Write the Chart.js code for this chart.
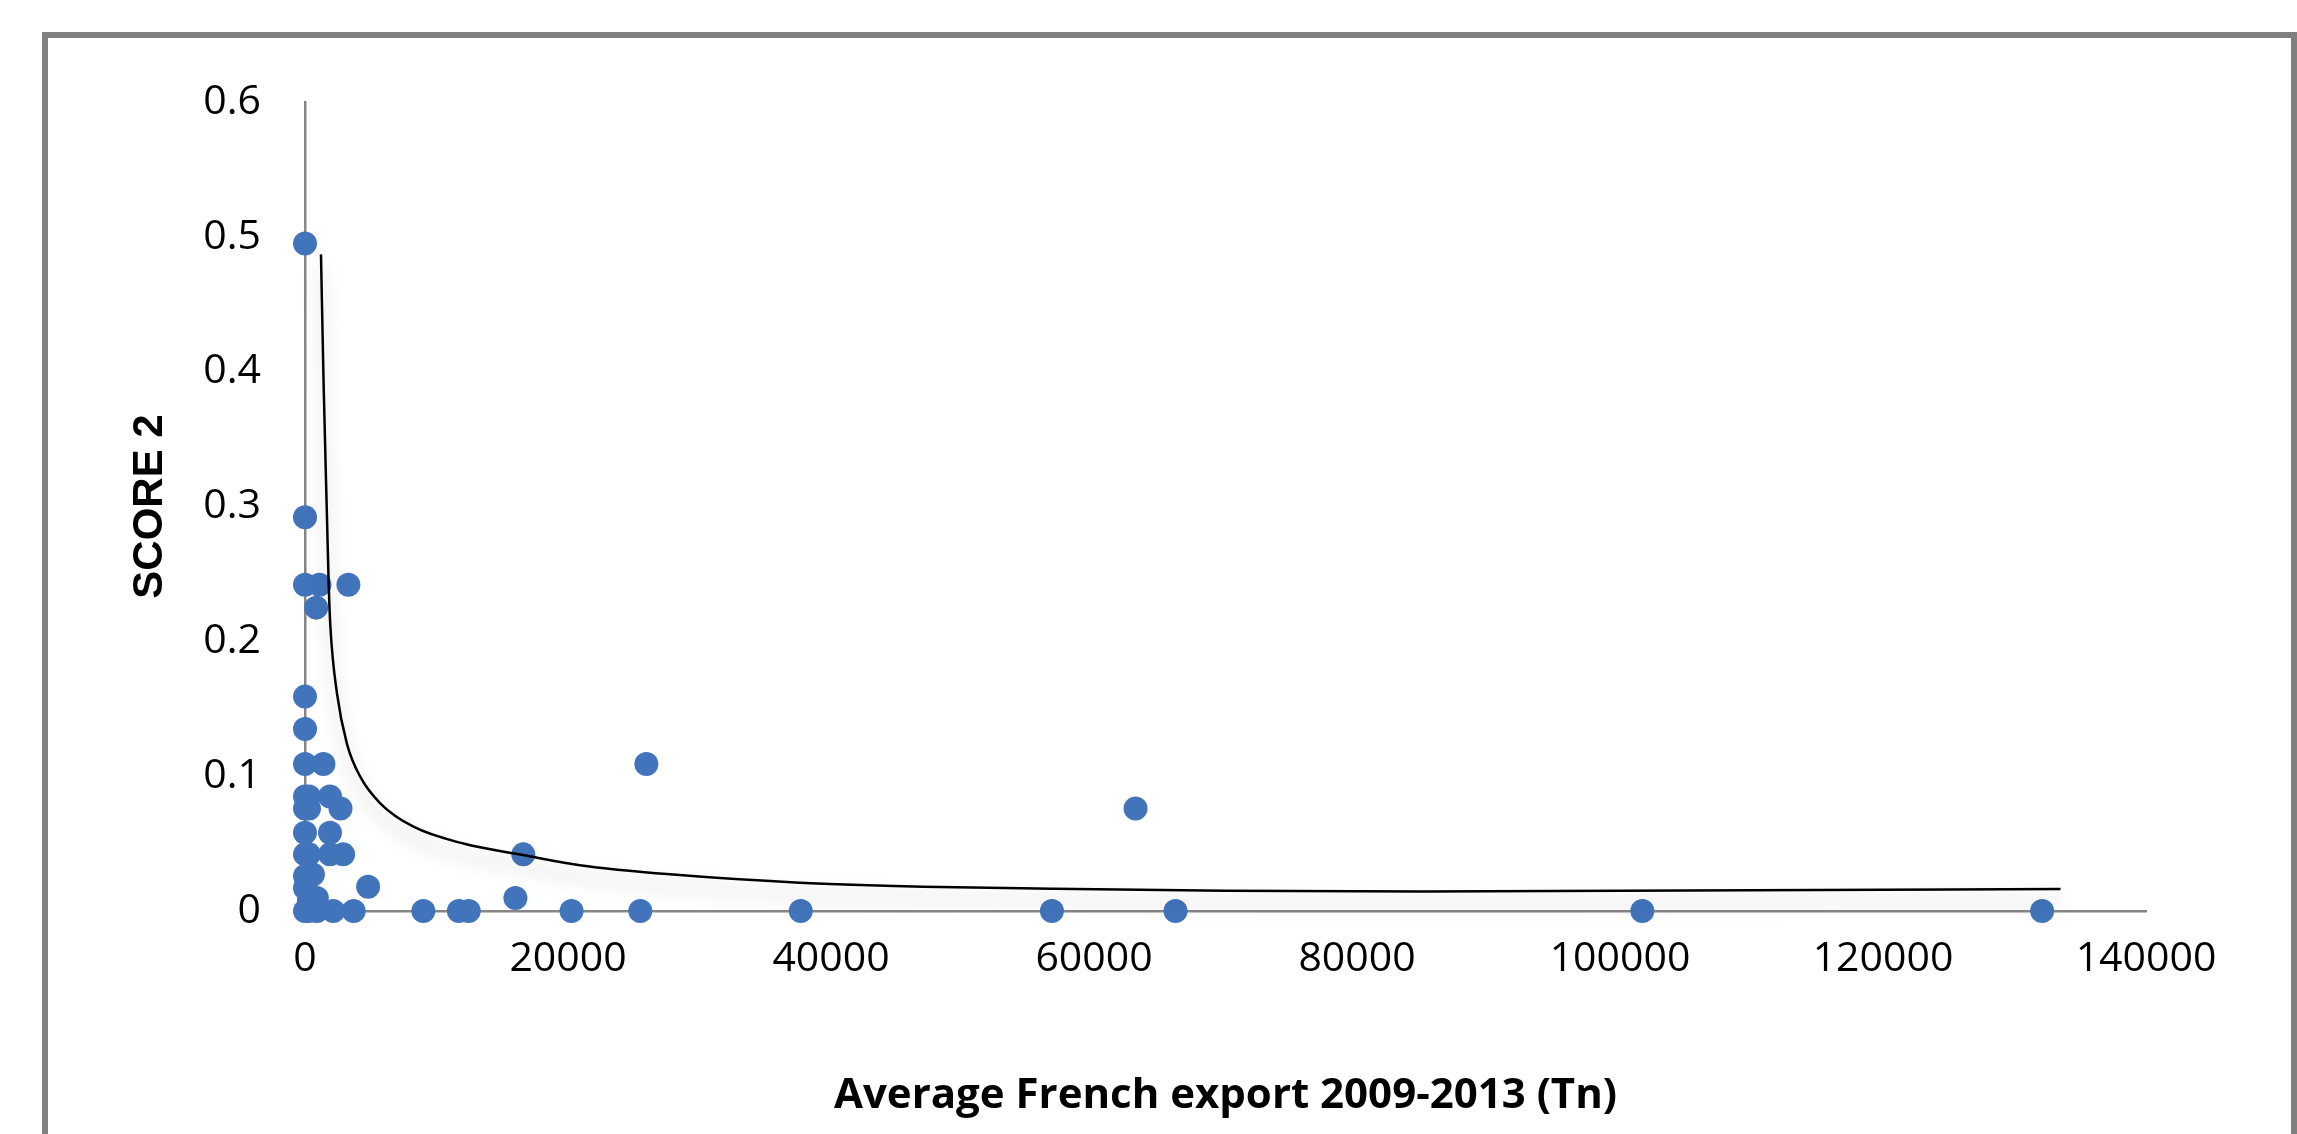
<!DOCTYPE html>
<html>
<head>
<meta charset="utf-8">
<script src="https://cdn.jsdelivr.net/npm/chart.js@4.4.1/dist/chart.umd.min.js"></script>
<style>
    html, body { margin: 0; padding: 0; background: #fff; }
    #wrap { position: relative; width: 2297px; height: 1134px; overflow: hidden; }
    #frame {
        position: absolute; left: 42px; top: 32px; width: 2255px; height: 1200px;
        box-sizing: border-box; border: 6px solid #808080;
    }
    #chart { position: absolute; left: 0; top: 0; }
</style>
</head>
<body>
<div id="wrap">
    <div id="frame"></div>
    <canvas id="chart" width="2297" height="1134"></canvas>
</div>
<script>
// Valores
const exportTn = [
    0, 0, 0, 0, 0, 0, 0, 0, 0, 0, 0, 0, 0,
    300, 300, 300, 300, 300, 300,
    1100, 3300, 850, 1400, 1900, 2700, 1900, 1900, 2900, 600, 900, 4800,
    900, 2150, 3700, 9000, 11700, 12450, 16000,
    16600, 25960, 20270, 25500, 37700, 56800, 63160, 66200, 101700, 132100
];
const score2 = [
    0.495, 0.292, 0.242, 0.159, 0.135, 0.109, 0.085, 0.076, 0.058, 0.042, 0.026, 0.017, 0,
    0.085, 0.076, 0.042, 0.026, 0.008, 0,
    0.242, 0.242, 0.225, 0.109, 0.085, 0.076, 0.058, 0.042, 0.042, 0.027, 0.0096, 0.018,
    0, 0, 0, 0, 0, 0, 0.0097,
    0.042, 0.109, 0, 0, 0, 0, 0.076, 0, 0, 0
];

// Linha de tendência
const trendX = [1215, 1415, 1670, 1800, 1930, 2430, 3190, 4200, 5720, 8250, 12050, 16600,
    20900, 28000, 37600, 47000, 56800, 70000, 85000, 100000, 115000, 133500];
const trendY = [0.487, 0.391, 0.2925, 0.243, 0.211, 0.1615, 0.124, 0.0996, 0.0799, 0.0625, 0.05, 0.0415,
    0.034, 0.027, 0.021, 0.018, 0.0165, 0.015, 0.0145, 0.015, 0.0155, 0.0163];

const xTicks = [0, 20000, 40000, 60000, 80000, 100000, 120000, 140000];
const yTicks = [0, 0.1, 0.2, 0.3, 0.4, 0.5, 0.6];

const pontos = exportTn.map((x, i) => ({ x: x, y: score2[i] }));
const tendencia = trendX.map((x, i) => ({ x: x, y: trendY[i] }));

const trendShadow = {
    id: 'trendShadow',
    beforeDatasetDraw(chart, args) {
        if (args.meta.label !== 'trend') return;
        const ctx = chart.ctx;
        ctx.save();
        ctx.shadowColor = 'rgba(0,0,0,0.3)';
        ctx.shadowBlur = 18;
        ctx.shadowOffsetY = 12;
    },
    afterDatasetDraw(chart, args) {
        if (args.meta.label !== 'trend') return;
        chart.ctx.restore();
    }
};

const ctx = document.getElementById('chart').getContext('2d');
new Chart(ctx, {
    type: 'scatter',
    data: {
        datasets: [
            {
                label: 'score',
                data: pontos,
                backgroundColor: '#4274bb',
                borderWidth: 0,
                pointRadius: 12,
                pointHoverRadius: 12,
                clip: 20,
                order: 1
            },
            {
                label: 'trend',
                type: 'line',
                data: tendencia,
                borderColor: '#000000',
                borderWidth: 2.5,
                pointRadius: 0,
                fill: false,
                showLine: true,
                clip: 20,
                cubicInterpolationMode: 'monotone',
                order: 0
            }
        ]
    },
    options: {
        responsive: false,
        animation: false,
        events: [],
        layout: { padding: { left: 60, right: 151, top: 102, bottom: 0 } },
        plugins: { legend: { display: false }, tooltip: { enabled: false } },
        scales: {
            x: {
                type: 'linear',
                min: 0,
                max: 140000,
                afterBuildTicks: s => { s.ticks = xTicks.map(v => ({ value: v })); },
                afterFit: s => { s.height = 223; },
                grid: { display: false, drawTicks: false },
                border: { display: true, color: '#868686', width: 2.5 },
                ticks: {
                    padding: 24,
                    color: '#000',
                    font: { family: 'Open Sans', size: 41 },
                    callback: v => String(v)
                },
                title: {
                    display: true,
                    text: 'Average French export 2009-2013 (Tn)',
                    color: '#000',
                    font: { family: 'Open Sans', size: 42, weight: 'bold' },
                    padding: { top: 0, bottom: 13 }
                }
            },
            y: {
                type: 'linear',
                min: 0,
                max: 0.6,
                afterBuildTicks: s => { s.ticks = yTicks.map(v => ({ value: v })); },
                afterFit: s => { s.width = 245; },
                grid: { display: false, drawTicks: false },
                border: { display: true, color: '#868686', width: 2.5 },
                ticks: {
                    padding: 44,
                    color: '#000',
                    font: { family: 'Open Sans', size: 41 },
                    callback: v => String(Number(v.toFixed(1)))
                },
                title: {
                    display: true,
                    text: 'SCORE 2',
                    color: '#000',
                    font: { family: 'Liberation Sans', size: 42, weight: 'bold' },
                    padding: { top: 65, bottom: 0 }
                }
            }
        }
    },
    plugins: [trendShadow]
});
</script>
</body>
</html>
